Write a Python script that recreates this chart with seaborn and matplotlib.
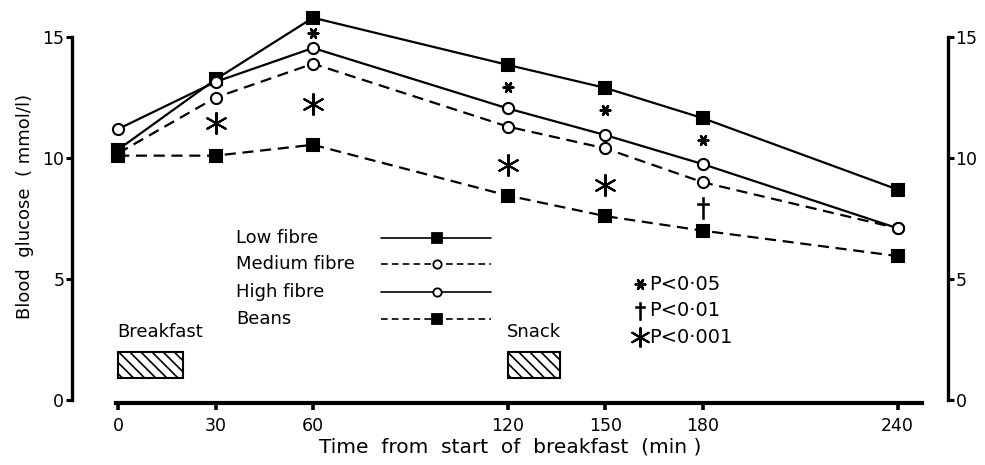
import numpy as np
import pandas as pd
import seaborn as sns
import matplotlib.pyplot as plt
from matplotlib.patches import Rectangle

# values (mmol/l)
time = [0, 30, 60, 120, 150, 180, 240]
low_fibre = [10.35, 13.25, 15.8, 13.85, 12.9, 11.65, 8.7]
medium_fibre = [10.2, 12.5, 13.9, 11.3, 10.4, 9.0, 7.1]
high_fibre = [11.2, 13.15, 14.55, 12.05, 10.95, 9.75, 7.1]
beans = [10.1, 10.1, 10.55, 8.45, 7.6, 7.0, 5.95]

# significance symbols
sig_time = [60, 120, 150, 180, 180, 30, 60, 120, 150]
sig_value = [15.15, 12.95, 12.0, 10.75, 7.95, 11.45, 12.25, 9.7, 8.9]
sig_level = ["P<0·05"] * 4 + ["P<0·01"] + ["P<0·001"] * 4

x_ticks = [0, 30, 60, 120, 150, 180, 240]
y_ticks = [0, 5, 10, 15]
series_names = ["Low fibre", "Medium fibre", "High fibre", "Beans"]

sns.set_style("ticks")
plt.rcParams["font.family"] = ["DejaVu Sans"]
plt.rcParams["hatch.linewidth"] = 1.2
for k in ["text.color", "axes.labelcolor", "xtick.color", "ytick.color", "axes.edgecolor"]:
    plt.rcParams[k] = "black"

fig = plt.figure(figsize=(9.85, 4.65), dpi=100)
ax = fig.add_axes([0.0731, 0.1333, 0.8893, 0.8452])

styles = {
    "Low fibre": dict(marker="s", ls="-", mfc="black", data=low_fibre),
    "Medium fibre": dict(marker="o", ls=(0, (5, 3)), mfc="white", data=medium_fibre),
    "High fibre": dict(marker="o", ls="-", mfc="white", data=high_fibre),
    "Beans": dict(marker="s", ls=(0, (5, 3)), mfc="black", data=beans),
}

for name in series_names:
    st = styles[name]
    sns.lineplot(x=time, y=st["data"], ax=ax, color="black", linewidth=1.6,
                 linestyle=st["ls"], marker=st["marker"], markersize=8.5 if st["marker"] == "s" else 8,
                 markerfacecolor=st["mfc"], markeredgecolor="black",
                 markeredgewidth=1.5, clip_on=False, zorder=3)

sig = pd.DataFrame({"time": sig_time, "value": sig_value, "level": sig_level})
sig_markers = {
    "P<0·05": dict(marker=(6, 2, 90), s=45, linewidth=1.9),
    "P<0·01": dict(marker="$†$", s=230, linewidth=0.4),
    "P<0·001": dict(marker=(6, 2, 0), s=230, linewidth=1.5),
}
for lvl, kw in sig_markers.items():
    sub = sig[sig["level"] == lvl]
    sns.scatterplot(data=sub, x="time", y="value", ax=ax, color="black",
                    edgecolor="black", zorder=4, **kw)

ax.set_xlim(-14.2, 255.5)
ax.set_ylim(-0.124, 16.12)
ax.set_xticks(x_ticks)
ax.set_yticks(y_ticks)
ax.spines["top"].set_visible(False)
ax.spines["left"].set_bounds(0, 15)
ax.spines["right"].set_bounds(0, 15)
ax.spines["bottom"].set_bounds(-0.6, 247.4)
for s in ["left", "right"]:
    ax.spines[s].set_linewidth(2.4)
ax.spines["bottom"].set_linewidth(3.0)
ax.tick_params(axis="y", left=True, right=True, labelleft=True, labelright=True,
               direction="out", length=4, width=2.2, pad=1.5, labelsize=12.5)
ax.tick_params(axis="x", direction="out", length=5, width=2.6, pad=5, labelsize=12.5)
ax.set_xlabel("Time  from  start  of  breakfast  (min )", fontsize=14.5, labelpad=2)
ax.set_ylabel("Blood  glucose  ( mmol/l)", fontsize=13, labelpad=6)

# legend for the diets
leg_y = [6.69, 5.62, 4.46, 3.35]
for name, y in zip(series_names, leg_y):
    st = styles[name]
    ax.text(36.4, y, name, fontsize=13, va="center", ha="left")
    ls = st["ls"] if st["ls"] == "-" else (0, (4, 2.5))
    ax.plot([81, 98.3, 114.9], [y, y, y], color="black", lw=1.2, ls=ls,
            marker=st["marker"], markevery=[1], markersize=6.5 if st["marker"] == "s" else 6,
            mfc=st["mfc"], mec="black", mew=1.3)

# legend for the significance levels
p_y = [4.79, 3.68, 2.60]
for (lvl, kw), y in zip(sig_markers.items(), p_y):
    ax.scatter([160.8], [y], color="black", edgecolor="black", zorder=4,
               marker=kw["marker"], s=kw["s"] * (0.8 if lvl != "P<0·05" else 1),
               linewidth=kw["linewidth"])
    ax.text(163.6, y, lvl, fontsize=14, va="center", ha="left")

# meal bars
for x0, w, label in [(0, 20, "Breakfast"), (120, 16, "Snack")]:
    ax.add_patch(Rectangle((x0, 0.9), w, 1.1, fill=False, hatch="\\\\\\",
                           lw=1.5, edgecolor="black"))
    ax.text(x0 - 0.3, 2.8, label, fontsize=13, va="center", ha="left")

fig.savefig("out.png", dpi=100)
